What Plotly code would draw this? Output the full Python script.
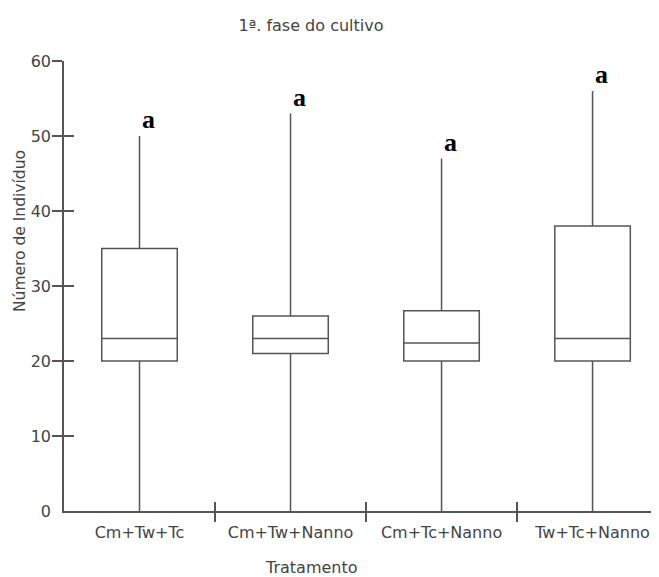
import plotly.graph_objects as go

tratamentos = ["Cm+Tw+Tc", "Cm+Tw+Nanno", "Cm+Tc+Nanno", "Tw+Tc+Nanno"]
minimo = [0, 0, 0, 0]
q1 = [20, 21, 20, 20]
mediana = [23, 23, 22.4, 23]
q3 = [35, 26, 26.7, 38]
maximo = [50, 53, 47, 56]
letras = ["a", "a", "a", "a"]
y_ticks = [0, 10, 20, 30, 40, 50, 60]
divisas = [0.5, 1.5, 2.5]  # ticks entre tratamentos

cinza = "#555555"
texto = "#444444"
fonte = "DejaVu Sans"
faixa_x = [-0.5, 3.44]

fig = go.Figure()
fig.add_trace(go.Box(
    x=tratamentos, q1=q1, median=mediana, q3=q3,
    lowerfence=minimo, upperfence=maximo,
    fillcolor="rgba(0,0,0,0)", line=dict(color=cinza, width=1.5),
    width=0.5, whiskerwidth=0, boxpoints=False, showlegend=False,
    hoverinfo="skip",
))
# traces invisiveis so para desenhar os ticks que cruzam os eixos
for n in ["2", "3"]:
    fig.add_trace(go.Scatter(
        x=list(range(len(tratamentos))), y=mediana, xaxis="x" + n, yaxis="y" + n,
        mode="markers", marker=dict(opacity=0), showlegend=False, hoverinfo="skip",
    ))

for t, m, l in zip(tratamentos, maximo, letras):
    fig.add_annotation(x=t, y=m, text="<b>" + l + "</b>", showarrow=False,
                       xanchor="center", yanchor="bottom", xshift=9, yshift=0,
                       font=dict(family="Liberation Serif", size=26, color="black"))

# a pagina tem margem de 8px no body, por isso as posicoes descontam 8
fig.add_annotation(x=(303 - 56) / 595, y=0.0, xref="paper", yref="paper",
                   yanchor="middle", xanchor="center", yshift=-56,
                   text="Tratamento", showarrow=False,
                   font=dict(family=fonte, size=16, color=texto))
fig.add_annotation(x=(12 - 56) / 595, y=(503 - 223) / 450, xref="paper", yref="paper",
                   xanchor="center", yanchor="middle", textangle=-90,
                   text="Número de Indivíduo", showarrow=False,
                   font=dict(family=fonte, size=15.5, color=texto))

base_x = dict(range=faixa_x, showgrid=False, zeroline=False, showline=True,
              linecolor=cinza, linewidth=1.5, tickcolor=cinza, tickwidth=1.5, ticklen=9)
base_y = dict(range=[0, 60], showgrid=False, zeroline=False, showline=True,
              linecolor=cinza, linewidth=1.5, tickcolor=cinza, tickwidth=1.5, ticklen=10)

fig.update_layout(
    width=659, height=577,
    margin=dict(l=56, r=8, t=53, b=74),
    paper_bgcolor="white", plot_bgcolor="white",
    font=dict(family=fonte, size=16, color=texto),
    title=dict(text="1ª. fase do cultivo", x=303 / 659, xanchor="center", y=1 - 17 / 577,
               yanchor="middle", font=dict(family=fonte, size=16, color=texto)),
    xaxis=dict(**base_x, type="category", categoryarray=tratamentos, categoryorder="array",
               ticks="", ticklabelstandoff=6, tickfont=dict(size=16, color=texto)),
    yaxis=dict(**base_y, tickvals=y_ticks, ticks="", ticklabelstandoff=8,
               tickfont=dict(size=16, color=texto)),
    xaxis2=dict(**base_x, tickvals=divisas, ticks="inside", showticklabels=False,
                overlaying="x", anchor="y2"),
    yaxis2=dict(**base_y, tickvals=y_ticks[1:], ticks="inside", showticklabels=False,
                overlaying="y", anchor="x2"),
    xaxis3=dict(**base_x, tickvals=divisas, ticks="outside", showticklabels=False,
                overlaying="x", anchor="y3"),
    yaxis3=dict(**base_y, tickvals=y_ticks[1:], ticks="outside", showticklabels=False,
                overlaying="y", anchor="x3"),
)

fig.write_html("out.html")
